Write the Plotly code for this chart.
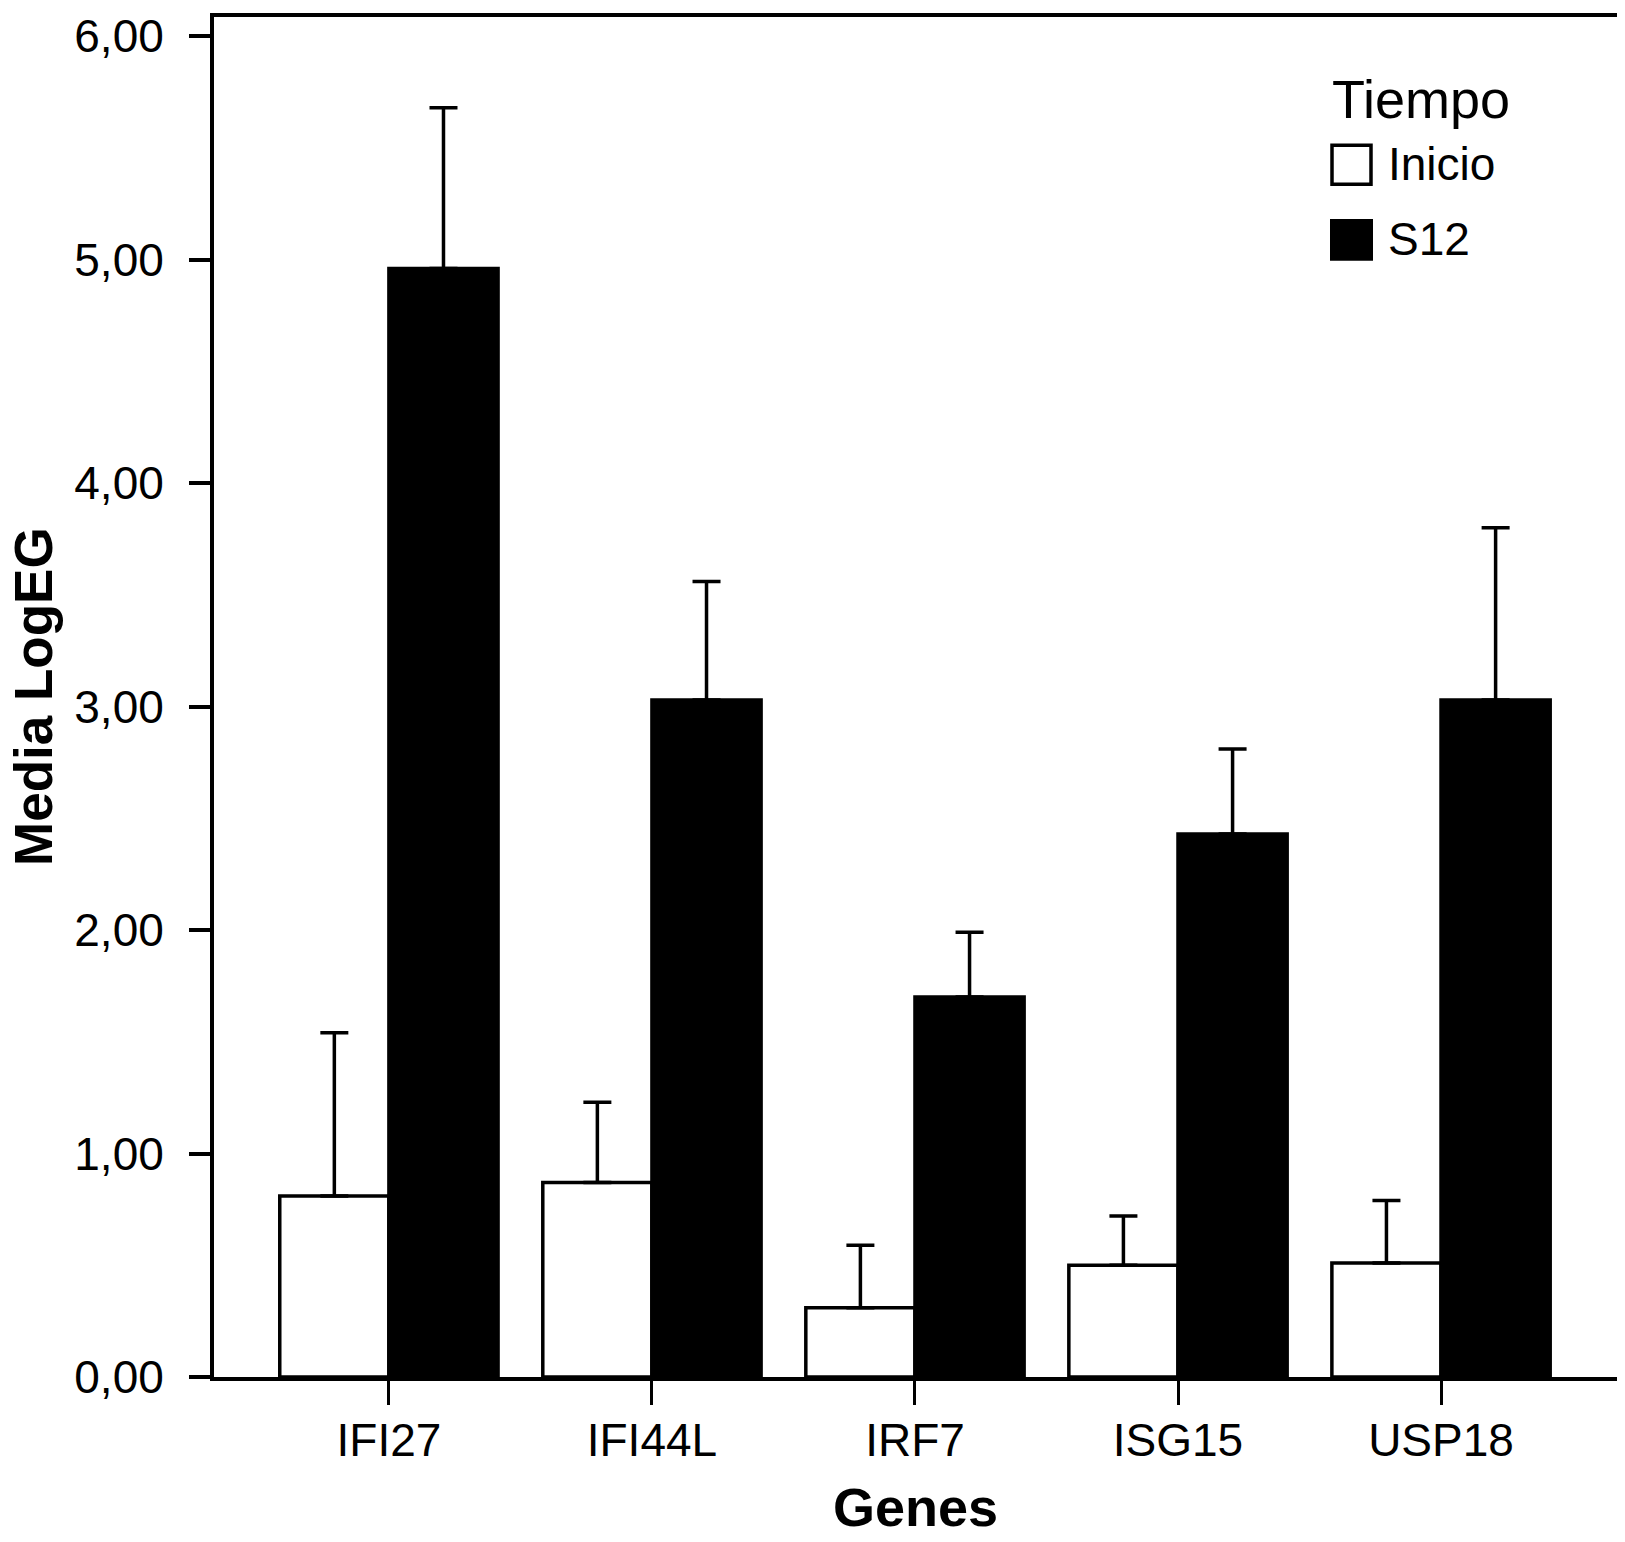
import plotly.graph_objects as go

genes = ["IFI27", "IFI44L", "IRF7", "ISG15", "USP18"]
inicio = [0.81, 0.87, 0.31, 0.50, 0.51]
inicio_upper = [1.54, 1.23, 0.59, 0.72, 0.79]
s12 = [4.96, 3.03, 1.70, 2.43, 3.03]
s12_upper = [5.68, 3.56, 1.99, 2.81, 3.80]

y_ticks = [0, 1, 2, 3, 4, 5, 6]

# the page body has an 8px margin, so the figure is a bit smaller than the window
OFF = 8
W, H = 1625 - OFF, 1542 - OFF
PL, PR, PT, PB = 214, 1617, 10, 1377  # plot box in window pixels
L, R, T, B = PL - OFF, W + OFF - PR, PT - OFF, H + OFF - PB
FONT = "Liberation Sans, Arial, Helvetica, sans-serif"

unit = (PB - 29.3) / 6.0
y_top = (PB - PT) / unit


def px_x(x):
    return (x - PL) / (PR - PL)


def px_y(y):
    return (PB - y) / (PB - PT)


inicio_err = [u - v for u, v in zip(inicio_upper, inicio)]
s12_err = [u - v for u, v in zip(s12_upper, s12)]

fig = go.Figure()
fig.add_trace(go.Bar(
    x=genes, y=inicio, name="Inicio",
    marker=dict(color="white", line=dict(color="black", width=3.5)),
    error_y=dict(type="data", array=inicio_err, symmetric=False,
                 arrayminus=[0] * len(genes), color="black",
                 thickness=3.5, width=14),
    showlegend=False,
))
fig.add_trace(go.Bar(
    x=genes, y=s12, name="S12",
    marker=dict(color="black", line=dict(color="black", width=3.5)),
    error_y=dict(type="data", array=s12_err, symmetric=False,
                 arrayminus=[0] * len(genes), color="black",
                 thickness=3.5, width=14),
    showlegend=False,
))

# legend drawn by hand so the swatches match the big squares
shapes = [
    dict(type="rect", xref="paper", yref="paper",
         x0=px_x(1332), x1=px_x(1371), y0=px_y(178), y1=px_y(139),
         line=dict(color="black", width=3.5), fillcolor="white"),
    dict(type="rect", xref="paper", yref="paper",
         x0=px_x(1330), x1=px_x(1373), y0=px_y(255), y1=px_y(213),
         line=dict(width=0), fillcolor="black"),
]
annotations = [
    dict(text="Tiempo", x=px_x(1330), y=px_y(92), xref="paper", yref="paper",
         xanchor="left", yanchor="middle", showarrow=False,
         font=dict(size=54, color="black", family=FONT)),
    dict(text="Inicio", x=px_x(1386), y=px_y(158), xref="paper", yref="paper",
         xanchor="left", yanchor="middle", showarrow=False,
         font=dict(size=46, color="black", family=FONT)),
    dict(text="S12", x=px_x(1386), y=px_y(233), xref="paper", yref="paper",
         xanchor="left", yanchor="middle", showarrow=False,
         font=dict(size=46, color="black", family=FONT)),
    dict(text="<b>Genes</b>", x=0.5, y=px_y(1508), xref="paper", yref="paper",
         xanchor="center", yanchor="middle", showarrow=False,
         font=dict(size=54, color="black", family=FONT)),
    dict(text="<b>Media LogEG</b>", x=px_x(33), y=0.5, xref="paper", yref="paper",
         xanchor="center", yanchor="middle", showarrow=False, textangle=-90,
         font=dict(size=53, color="black", family=FONT)),
]

fig.update_layout(
    width=W, height=H,
    margin=dict(l=L, r=R, t=T, b=B, pad=0),
    paper_bgcolor="white", plot_bgcolor="white",
    barmode="group", bargap=0.17, bargroupgap=0,
    separators=",.",
    font=dict(family=FONT, size=46, color="black"),
    shapes=shapes, annotations=annotations,
    xaxis=dict(
        range=[-0.665, 4.669], showgrid=False, zeroline=False,
        showline=True, linecolor="black", linewidth=4, mirror=True,
        ticks="outside", ticklen=24, tickwidth=3, tickcolor="black",
        ticklabelstandoff=-4, tickfont=dict(size=46),
    ),
    yaxis=dict(
        range=[0, y_top], tickvals=y_ticks, tickformat=".2f",
        showgrid=False, zeroline=False,
        showline=True, linecolor="black", linewidth=4, mirror=True,
        ticks="outside", ticklen=21, tickwidth=3.5, tickcolor="black",
        ticklabelstandoff=16, tickfont=dict(size=46),
        ticklabeloverflow="allow",
    ),
)

fig.write_html("out.html")
